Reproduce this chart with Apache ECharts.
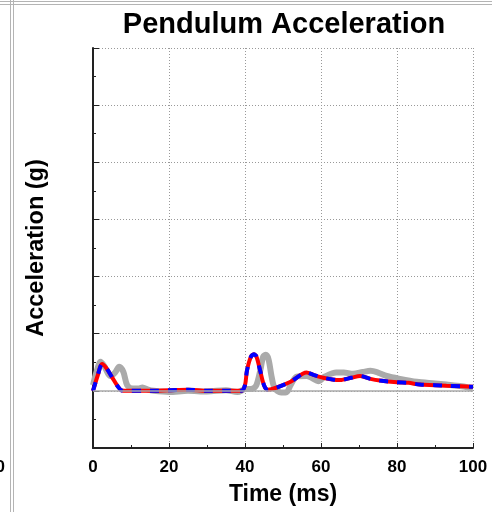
<!DOCTYPE html>
<html>
<head>
<meta charset="utf-8">
<script src="https://cdn.jsdelivr.net/npm/echarts@6/dist/echarts.min.js"></script>
<style>html,body{margin:0;padding:0;background:#fff}#c{width:492px;height:512px}</style>
</head>
<body>
<div id="c"></div>
<script>
// Time (ms) / acceleration values
const testTime = [0,1,2,3,4.5,5.8,6.9,8,9,10.5,12,13,14.5,16,20,25,30,35,38,40,42,43,44,44.8,45.5,46.2,47,47.8,49.5,51,52,53.6,56.2,57.5,59.3,61,64,66,68.4,71,73,75,77.3,80.8,85.2,90,93,97,100];
const testAccel = [1.0,3.5,5.1,4.3,2.6,3.2,4.2,3.3,1.0,0.4,0.4,0.6,0.2,0,-0.2,0,-0.1,0.1,-0.2,0.3,0.4,1.0,3.5,6.0,6.3,5.5,2.5,0.5,-0.3,-0.2,1.0,2.5,2.6,2.3,1.7,2.5,3.2,3.2,3.0,3.3,3.5,3.2,2.6,2.1,1.6,1.3,1.1,0.8,0.4];
const modelTime = [0,1.2,2.4,3.5,5,6.5,7.5,9,15,20,25,30,35,39,40,40.5,41.5,42.3,43,44,45,46,48,52,56.2,58,60.6,63,65,68,70.3,73,75.5,80,83,86,90,93,97,100];
const modelAccel = [0,2.6,4.7,4.0,2.4,0.8,0.1,0,0,0.1,0.2,0,0,0,1.0,3.5,5.9,6.4,6.0,3.5,1.0,0.2,0.5,1.6,3.2,2.8,2.3,2.0,1.9,2.3,2.6,2.1,1.8,1.5,1.4,1.1,1.0,0.9,0.8,0.7];
const xTicks = [0,20,40,60,80,100];
const yTicks = [-10,0,10,20,30,40,50,60];

const font = "'Liberation Sans', Arial, sans-serif";
const chart = echarts.init(document.getElementById('c'));
chart.setOption({
  animation: false,
  grid: {left: 93, right: 19, top: 48, bottom: 64},
  graphic: [
    {type: 'text', x: 284, y: 25, style: {text: 'Pendulum Acceleration', font: "bold 29px " + font, fill: '#000', align: 'center', verticalAlign: 'middle'}},
    {type: 'text', x: 5, y: 467, style: {text: '100', font: "bold 17px " + font, fill: '#000', align: 'right', verticalAlign: 'middle'}},
    {type: 'line', shape: {x1: 10.5, y1: 0, x2: 10.5, y2: 512}, style: {stroke: '#b4b4b4', lineWidth: 1}},
    {type: 'line', shape: {x1: 13.5, y1: 0, x2: 13.5, y2: 512}, style: {stroke: '#b4b4b4', lineWidth: 1}},
    {type: 'line', shape: {x1: 0, y1: 1.5, x2: 492, y2: 1.5}, style: {stroke: '#b4b4b4', lineWidth: 1}},
    {type: 'line', shape: {x1: 0, y1: 4.5, x2: 492, y2: 4.5}, style: {stroke: '#b4b4b4', lineWidth: 1}}
  ],
  xAxis: {
    type: 'value', min: xTicks[0], max: xTicks[xTicks.length - 1], interval: 20,
    name: 'Time (ms)', nameLocation: 'middle', nameGap: 35,
    nameTextStyle: {fontFamily: font, fontWeight: 'bold', fontSize: 23, color: '#000'},
    axisLine: {show: true, onZero: false, lineStyle: {color: '#222', width: 2}},
    axisTick: {show: true, inside: true, length: 5, lineStyle: {color: '#222', width: 1}},
    minorTick: {show: true, splitNumber: 2, length: 3, lineStyle: {color: '#222', width: 1}},
    axisLabel: {fontFamily: font, fontWeight: 'bold', fontSize: 17, color: '#000', margin: 11},
    splitLine: {show: true, lineStyle: {color: '#999999', type: [1, 2], width: 1}}
  },
  yAxis: {
    type: 'value', min: yTicks[0], max: yTicks[yTicks.length - 1], interval: 10,
    name: 'Acceleration (g)', nameLocation: 'middle', nameGap: 44,
    nameTextStyle: {fontFamily: font, fontWeight: 'bold', fontSize: 23.5, color: '#000'},
    axisLine: {show: true, onZero: false, lineStyle: {color: '#222', width: 2}},
    axisTick: {show: true, inside: true, length: 6, lineStyle: {color: '#222', width: 1}},
    minorTick: {show: true, splitNumber: 2, length: 3, lineStyle: {color: '#222', width: 1}},
    axisLabel: {show: false},
    splitLine: {show: true, lineStyle: {color: '#999999', type: [1, 2], width: 1}}
  },
  series: [
    {
      name: 'Test', type: 'line', data: testTime.map((x, i) => [x, testAccel[i]]),
      showSymbol: false, smooth: 0.3, z: 2,
      lineStyle: {color: '#aaaaaa', width: 6},
      markLine: {silent: true, symbol: 'none', label: {show: false},
        lineStyle: {color: '#aaaaaa', type: 'solid', width: 1.5}, data: [{yAxis: 0}]}
    },
    {
      name: 'Model', type: 'line', data: modelTime.map((x, i) => [x, modelAccel[i]]),
      showSymbol: false, smooth: 0.3, z: 3,
      lineStyle: {color: '#ff0000', width: 4}
    },
    {
      name: 'Model dashes', type: 'line', data: modelTime.map((x, i) => [x, modelAccel[i]]),
      showSymbol: false, smooth: 0.3, z: 4,
      lineStyle: {color: '#0000ff', width: 4, type: [9, 9]}
    }
  ]
});
</script>
</body>
</html>
